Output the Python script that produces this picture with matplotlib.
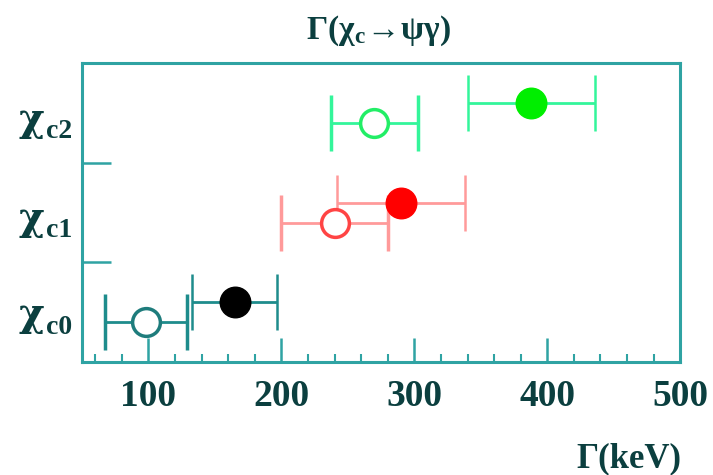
import matplotlib
matplotlib.use("Agg")
import matplotlib.pyplot as plt
from matplotlib.ticker import MultipleLocator
from matplotlib.transforms import blended_transform_factory

# data
categories = ["χc0", "χc1", "χc2"]
cat_subscripts = ["c0", "c1", "c2"]
filled_vals = [165, 290, 388]
filled_errs = [32, 48, 48]
open_vals = [98, 240, 270]
open_errs = [31, 40, 33]
xticks = [100, 200, 300, 400, 500]

plt.rcParams["font.family"] = ["Liberation Serif", "DejaVu Serif"]
plt.rcParams["mathtext.fontset"] = "custom"
plt.rcParams["mathtext.rm"] = "Liberation Serif:bold"
plt.rcParams["mathtext.it"] = "Liberation Serif:bold"
plt.rcParams["mathtext.bf"] = "Liberation Serif:bold"
plt.rcParams["mathtext.default"] = "rm"

teal = "#2fa3a3"
text_c = "#0b3f3f"
colors_marker = ["#000000", "#ff0000", "#00ee00"]
colors_err = ["#1e8c8c", "#ff9a9a", "#33f59a"]
colors_edge = ["#1e7c7c", "#ff4444", "#22ee66"]

fig = plt.figure(figsize=(7.13, 4.75), dpi=100)
ax = fig.add_axes([0.115, 0.238, 0.839, 0.629])

for i in range(3):
    ax.errorbar(filled_vals[i], i + 0.6, xerr=filled_errs[i], fmt="o",
                color=colors_err[i], ecolor=colors_err[i], elinewidth=2,
                capsize=20, capthick=1.8, markersize=22,
                markerfacecolor=colors_marker[i], markeredgecolor=colors_marker[i], zorder=3)
    ax.errorbar(open_vals[i], i + 0.4, xerr=open_errs[i], fmt="o",
                color=colors_err[i], ecolor=colors_err[i], elinewidth=2,
                capsize=20, capthick=1.8, markersize=20, markeredgewidth=2.5,
                markerfacecolor="white", markeredgecolor=colors_edge[i], zorder=3)

ax.set_xlim(50, 500)
ax.set_ylim(0, 3)
ax.set_xticks(xticks)
ax.set_xticklabels([str(v) for v in xticks], fontsize=27, fontweight="bold", color=text_c)
ax.xaxis.set_minor_locator(MultipleLocator(20))
ax.tick_params(axis="x", which="major", direction="in", length=17, width=1.8, color=teal, pad=12,
               top=False)
ax.tick_params(axis="x", which="minor", direction="in", length=6, width=1.5, color=teal, top=False)
ax.set_yticks([1, 2])
ax.set_yticklabels(["", ""])
ax.tick_params(axis="y", which="major", direction="in", length=21, width=1.8, color=teal, right=False)

for sp in ax.spines.values():
    sp.set_color(teal)
    sp.set_linewidth(2.2)

# category labels: chi with lowered subscript
tr = blended_transform_factory(fig.transFigure, ax.transData)
chi_y = [0.47, 1.44, 2.43]
for i in range(3):
    ax.text(0.062, chi_y[i], categories[i][0], transform=tr, ha="right", va="center",
            fontsize=28, fontweight="bold", color=text_c, family=["DejaVu Serif"])
    ax.text(0.064, chi_y[i] - 0.12, cat_subscripts[i], transform=tr, ha="left", va="center",
            fontsize=20, fontweight="bold", color=text_c)

fig.text(0.53, 0.935, r"$\Gamma(\chi_c\!\rightarrow\!\psi\gamma)$", ha="center", va="center",
         fontsize=24, color=text_c)
fig.text(0.955, 0.035, r"Γ(keV)", ha="right", va="center", fontsize=25, fontweight="bold",
         color=text_c)

fig.savefig("out.png", dpi=100)
